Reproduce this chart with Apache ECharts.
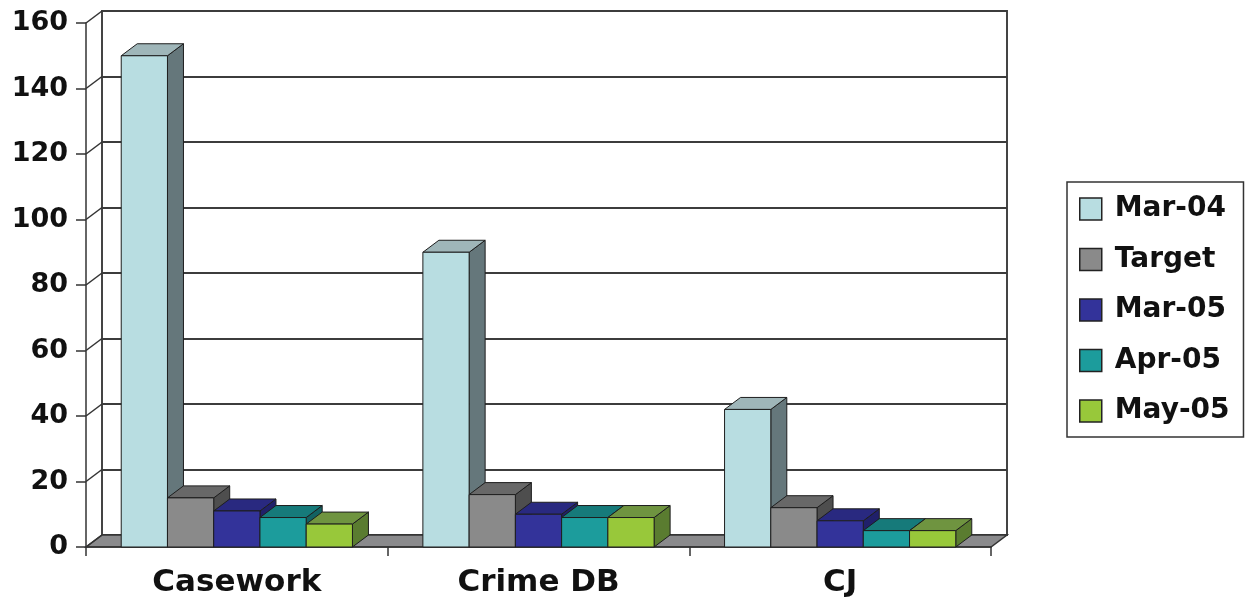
<!DOCTYPE html>
<html>
<head>
<meta charset="utf-8">
<script src="https://cdn.jsdelivr.net/npm/echarts@6/dist/echarts.min.js"></script>
<style>html,body{margin:0;padding:0;background:#fff;}#c{width:1248px;height:600px;}</style>
</head>
<body>
<div id="c"></div>
<script>
const categories = ['Casework', 'Crime DB', 'CJ'];
const seriesNames = ['Mar-04', 'Target', 'Mar-05', 'Apr-05', 'May-05'];
const mar04 = [150, 90, 42];
const target = [15, 16, 12];
const mar05 = [11, 10, 8];
const apr05 = [9, 9, 5];
const may05 = [7, 9, 5];
const yTicks = [0, 20, 40, 60, 80, 100, 120, 140, 160];

const seriesValues = [mar04, target, mar05, apr05, may05];
const faceColors = [
  {front: '#B8DDE1', top: '#9FB6B9', side: '#65777B'},
  {front: '#8A8A8A', top: '#686868', side: '#4E4E4E'},
  {front: '#33339A', top: '#292980', side: '#20206A'},
  {front: '#1C9C9C', top: '#167A7A', side: '#126262'},
  {front: '#98C83A', top: '#6F9440', side: '#5A7C30'}
];
const DX = 16, DY = -12;
const BAR_FRAC = 0.1533;
const EDGE = '#1e1e1e';
const FONT = 'DejaVu Sans';

function barRender(si) {
  return function (params, api) {
    const ci = api.value(0), v = api.value(1);
    const base = api.coord([ci, 0]);
    const top = api.coord([ci, v]);
    const catW = api.size([1, 0])[0];
    const bw = catW * BAR_FRAC;
    const x0 = base[0] - 2.5 * bw + si * bw, x1 = x0 + bw;
    const yb = base[1], yt = top[1];
    const c = faceColors[si];
    const st = {stroke: EDGE, lineWidth: 1};
    return {
      type: 'group',
      children: [
        {type: 'polygon', shape: {points: [[x1, yt], [x1 + DX, yt + DY], [x1 + DX, yb + DY], [x1, yb]]}, style: Object.assign({fill: c.side}, st)},
        {type: 'polygon', shape: {points: [[x0, yt], [x1, yt], [x1 + DX, yt + DY], [x0 + DX, yt + DY]]}, style: Object.assign({fill: c.top}, st)},
        {type: 'rect', shape: {x: x0, y: yt, width: bw, height: yb - yt}, style: Object.assign({fill: c.front}, st)}
      ]
    };
  };
}

function frameRender(params, api) {
  const cs = params.coordSys;
  const v = api.value(0);
  const p = api.coord([0, v]);
  const y = p[1];
  const children = [
    {type: 'line', shape: {x1: cs.x, y1: y, x2: cs.x + DX, y2: y + DY}, style: {stroke: '#333', lineWidth: 1.5}}
  ];
  if (v === 0) {
    children.unshift({type: 'polygon', shape: {points: [[cs.x, y], [cs.x + cs.width, y], [cs.x + cs.width + DX, y + DY], [cs.x + DX, y + DY]]},
      style: {fill: '#8A8A8C', stroke: '#333', lineWidth: 1.5}});
  }
  return {type: 'group', children: children};
}

const series = [
  {
    type: 'custom', name: '__frame', xAxisIndex: 0, yAxisIndex: 0, z: 1,
    data: yTicks.map(t => [t]), encode: {y: 0}, renderItem: frameRender, silent: true
  }
];
seriesNames.forEach((n, si) => {
  series.push({
    type: 'custom', name: n, xAxisIndex: 0, yAxisIndex: 0, z: 3,
    itemStyle: {color: faceColors[si].front},
    data: categories.map((c, ci) => [ci, seriesValues[si][ci]]),
    encode: {x: 0, y: 1},
    renderItem: barRender(si)
  });
});

const chart = echarts.init(document.getElementById('c'), null, {renderer: 'canvas'});
chart.setOption({
  backgroundColor: '#fff',
  animation: false,
  grid: [
    {left: 86, right: 257, top: 23, bottom: 53},
    {left: 86 + DX, right: 257 - DX, top: 23 + DY, bottom: 53 - DY, show: true, backgroundColor: '#fff', borderColor: '#444', borderWidth: 2, z: 0}
  ],
  xAxis: [
    {type: 'category', gridIndex: 0, data: categories, boundaryGap: true,
      axisLine: {show: true, lineStyle: {color: '#333', width: 1.5}},
      axisTick: {show: true, length: 9, lineStyle: {color: '#333', width: 1.5}},
      axisLabel: {fontFamily: FONT, fontWeight: 'bold', fontSize: 31, color: '#111', margin: 20},
      z: 2},
    {type: 'category', gridIndex: 1, data: categories, show: false}
  ],
  yAxis: [
    {type: 'value', gridIndex: 0, min: 0, max: 160, interval: 20,
      axisLine: {show: true, lineStyle: {color: '#333', width: 1.5}},
      axisTick: {show: true, length: 10, lineStyle: {color: '#333', width: 1.5}},
      axisLabel: {fontFamily: FONT, fontWeight: 'bold', fontSize: 27, color: '#111', margin: 18},
      splitLine: {show: false}, z: 2},
    {type: 'value', gridIndex: 1, min: 0, max: 160, interval: 20,
      axisLine: {show: false}, axisTick: {show: false}, axisLabel: {show: false},
      splitLine: {show: true, lineStyle: {color: '#3c3c3c', width: 2}}}
  ],
  legend: {
    data: seriesNames,
    orient: 'vertical',
    left: 1067, top: 182,
    padding: [13, 14, 12, 12],
    itemGap: 22.5,
    itemWidth: 22, itemHeight: 22,
    icon: 'rect',
    borderColor: '#333', borderWidth: 1.5,
    itemStyle: {borderColor: '#222', borderWidth: 1.5},
    textStyle: {fontFamily: FONT, fontWeight: 'bold', fontSize: 28, color: '#111', lineHeight: 26, padding: [0, 0, 0, 8]}
  },
  series: series
});
</script>
</body>
</html>
